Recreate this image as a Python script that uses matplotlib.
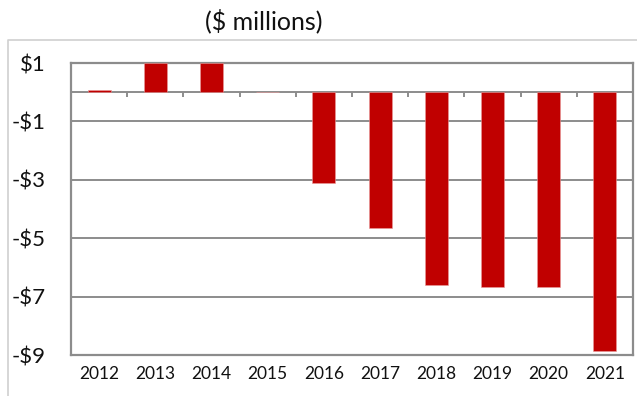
import numpy as np
import matplotlib
matplotlib.use("Agg")
import matplotlib.pyplot as plt
from matplotlib.lines import Line2D

years = ["2012", "2013", "2014", "2015", "2016", "2017", "2018", "2019", "2020", "2021"]
values = [0.08, 1.0, 1.0, 0.02, -3.11, -4.64, -6.60, -6.66, -6.66, -8.86]
y_ticks = [1, -1, -3, -5, -7, -9]
y_tick_labels = ["$1", "-$1", "-$3", "-$5", "-$7", "-$9"]
title = "($ millions)"

plt.rcParams["font.family"] = ["Lato", "DejaVu Sans"]

fig = plt.figure(figsize=(6.37, 3.96), dpi=100)
ax = fig.add_axes([71 / 637, 1 - 355 / 396, (633 - 71) / 637, (355 - 63) / 396])

x = np.arange(len(years))
ax.bar(x, values, width=0.41, color="#C00000", edgecolor="#E89A9A",
       linewidth=0.4, zorder=3)

grid_col = "#8C8C8C"
ax.set_ylim(-9, 1)
ax.set_xlim(-0.5, len(years) - 0.5)
ax.set_yticks(y_ticks)
ax.set_yticklabels(y_tick_labels, fontsize=16, color="#111111")
ax.set_xticks(x)
ax.set_xticklabels(years, fontsize=12.5, color="#111111")
ax.tick_params(axis="both", length=0)
ax.tick_params(axis="x", pad=8)
ax.tick_params(axis="y", pad=18)

ax.yaxis.grid(True, color=grid_col, linewidth=1.4, zorder=1)
ax.set_axisbelow(True)
for s in ax.spines.values():
    s.set_color(grid_col)
    s.set_linewidth(1.6)

# zero line with category separator ticks below it
ax.axhline(0, color=grid_col, linewidth=1.4, zorder=2)
ax.vlines(np.arange(1, len(years)) - 0.5, -0.18, 0, color=grid_col,
          linewidth=1.4, zorder=2)

# outer chart border (top and left edges)
fig.add_artist(Line2D([8 / 637, 8 / 637, 1.0], [0.0, 1 - 39.5 / 396, 1 - 39.5 / 396],
                      transform=fig.transFigure, color="#D0D0D0", linewidth=1.2))

fig.text(264 / 637, 1 - 21 / 396, title, ha="center", va="center",
         fontsize=18, color="#111111")

fig.savefig("out.png", dpi=100)
